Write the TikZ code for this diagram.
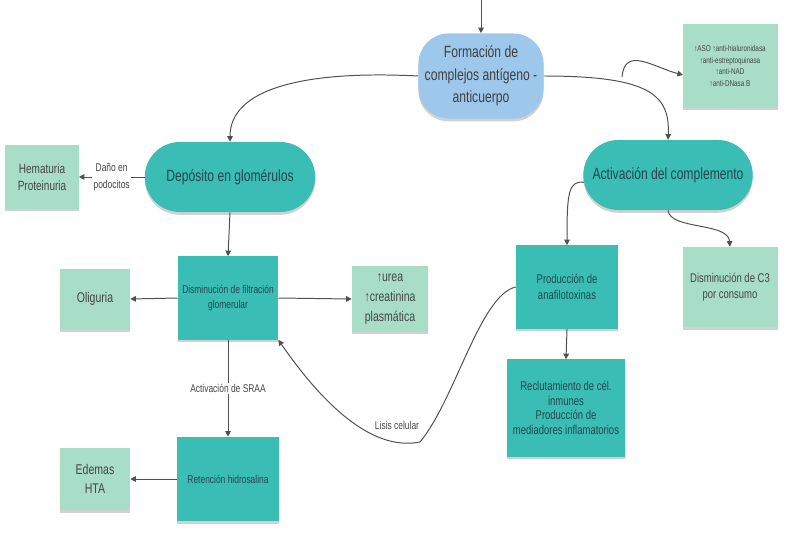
\documentclass[tikz,border=0pt]{standalone}
\usepackage{fontspec}
\setmainfont{Liberation Sans}[FakeStretch=0.75]
\usetikzlibrary{arrows.meta, shapes.misc, shadows}
\definecolor{turquesa}{RGB}{58,189,180}
\definecolor{menta}{RGB}{168,221,200}
\definecolor{celeste}{RGB}{158,199,236}
\definecolor{linea}{RGB}{80,80,80}
\definecolor{textoosc}{RGB}{38,70,82}
\definecolor{textogris}{RGB}{70,70,70}

\begin{document}
\begin{tikzpicture}[x=0.025cm, y=-0.025cm,
      sombra/.style={drop shadow={shadow xshift=0pt, shadow yshift=-2pt, opacity=0.18, fill=black}},
      grande/.style={rounded rectangle, fill=turquesa, sombra, text=textoosc, inner sep=2pt,
                     minimum height=1.75cm, font=\fontsize{11.5}{16}\selectfont},
      caja/.style={rectangle, fill=turquesa, sombra, text=textoosc, align=center, inner sep=2pt},
      nota/.style={rectangle, fill=menta, sombra, text=textogris, align=center, inner sep=2pt},
      flecha/.style={draw=linea, line width=0.7pt, -{Triangle[width=4pt, length=4pt]}},
      etiqueta/.style={fill=white, text=textogris, align=center, inner sep=1pt,
                       font=\fontsize{8}{12}\selectfont}]

    \useasboundingbox (0,0) rectangle (787,532);

    % nodo inicial
    \node[rectangle, rounded corners=0.75cm, fill=celeste, sombra, text=black!75, align=center,
          minimum width=3.125cm, minimum height=2.125cm, font=\fontsize{11.5}{16}\selectfont]
          (complejo) at (481,76) {Formación de\\complejos antígeno -\\anticuerpo};
    \coordinate (entrada) at (481,0);

    \node[grande, minimum width=4.4cm]   (deposito)   at (230,177) {Depósito en glomérulos};
    \node[grande, minimum width=4.375cm] (activacion) at (668,175) {Activación del complemento};

    \node[nota, minimum width=2.375cm, minimum height=2.075cm, font=\fontsize{6}{8.3}\selectfont]
          (aso) at (730,66) {↑ASO ↑anti-hialuronidasa\\↑anti-estreptoquinasa\\↑anti-NAD\\↑anti-DNasa B};
    \node[nota, minimum width=1.825cm, minimum height=1.575cm, font=\fontsize{9.5}{12}\selectfont]
          (hematuria) at (42,177) {Hematuria\\Proteinuria};

    % rama renal
    \node[caja, minimum width=2.5cm, minimum height=2.075cm, font=\fontsize{8}{11}\selectfont]
          (filtracion) at (228,298) {Disminución de filtración\\glomerular};
    \node[nota, minimum width=1.75cm, minimum height=1.5cm, font=\fontsize{10}{14}\selectfont]
          (oliguria) at (95,299) {Oliguria};
    \node[nota, minimum width=1.9cm, minimum height=1.625cm, font=\fontsize{10}{14}\selectfont]
          (urea) at (390,299) {↑urea\\↑creatinina\\plasmática};
    \node[caja, minimum width=2.525cm, minimum height=2.1cm, font=\fontsize{8}{11}\selectfont]
          (retencion) at (228,479) {Retención hidrosalina};
    \node[nota, minimum width=1.75cm, minimum height=1.55cm, font=\fontsize{10}{13.5}\selectfont]
          (edemas) at (95,479) {Edemas\\HTA};

    % rama del complemento
    \node[caja, minimum width=2.55cm, minimum height=2.075cm, font=\fontsize{9}{11}\selectfont]
          (anafilo) at (567,287) {Producción de\\anafilotoxinas};
    \node[nota, minimum width=2.375cm, minimum height=2cm, font=\fontsize{9}{11}\selectfont]
          (cetres) at (730,287) {Disminución de C3\\por consumo};
    \node[caja, minimum width=2.925cm, minimum height=2.425cm, font=\fontsize{9}{10.5}\selectfont]
          (reclutam) at (566,408) {Reclutamiento de cél.\\inmunes\\Producción de\\mediadores inflamatorios};

    \coordinate (rama) at (622,77);
    \coordinate (asoentra) at (683,75);
    \node[etiqueta] (lisis) at (397,425) {Lisis celular};

    % conectores
    \draw[flecha] (entrada) -- (complejo.north);
    \draw[flecha] (complejo.west) .. controls (300,70) and (230,90) .. (deposito.north);
    \draw[flecha] (complejo.east) .. controls (650,76) and (670,95) .. (activacion.north);
    \draw[flecha] (rama) to[out=85, in=165, looseness=1.3] (asoentra);

    \draw[flecha] (deposito.west) -- node[etiqueta] {Daño en\\podocitos} (hematuria.east);
    \draw[flecha] (deposito.south) -- (filtracion.north);
    \draw[flecha] (filtracion.west) -- (oliguria.east);
    \draw[flecha] (filtracion.east) -- (urea.west);
    \draw[flecha] (filtracion.south) -- node[etiqueta] {Activación de SRAA} (retencion.north);
    \draw[flecha] (retencion.west) -- (edemas.east);

    \draw[flecha] (activacion.185) .. controls (568,180) and (567,195) .. (anafilo.north);
    \draw[flecha] (activacion.south) .. controls (670,230) and (728,222) .. (cetres.north);
    \draw[flecha] (anafilo.south) -- (reclutam.north);
    \draw[flecha] (anafilo.west) .. controls (480,295) and (455,400) .. (420,442)
                  .. controls (370,452) and (320,400) .. (filtracion.south east);
  \end{tikzpicture}
\end{document}
